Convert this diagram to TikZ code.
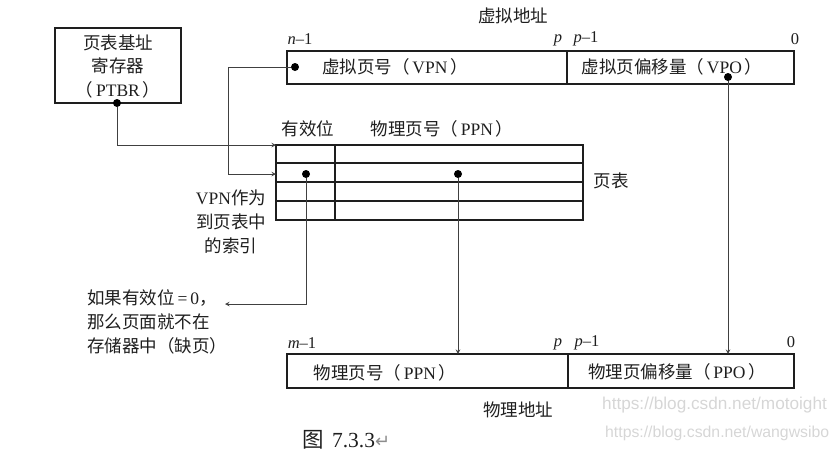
\documentclass[tikz,border=0pt]{standalone}
\usepackage{fontspec}
\setmainfont{Liberation Serif}
\newfontfamily\cjk{Noto Sans CJK SC}
\newfontfamily\wmfont{Liberation Sans}
\newfontfamily\symfont{DejaVu Sans}
\newcommand{\ZH}[1]{{\cjk #1}}
\definecolor{ink}{HTML}{1E1E1E}
\tikzset{
  regbox/.style={draw=ink, line width=1.8pt, inner sep=0pt, outer sep=0pt, anchor=north west},
  dotmark/.style={circle, fill=black, inner sep=0pt, minimum size=8pt},
  link/.style={draw=ink!85, line width=1pt, >=stealth},
  rowline/.style={draw=ink, line width=1.5pt},
  lbl/.style={text=ink, font=\fontsize{17.5}{20}\selectfont, inner sep=0pt},
  bitlbl/.style={text=ink, font=\fontsize{16.5}{18}\selectfont, inner sep=0pt},
  wmark/.style={text=black!16, inner sep=0pt}
}
\begin{document}
\begin{tikzpicture}[x=1pt, y=-1pt]

  \useasboundingbox (0,0) rectangle (839,451);

  %% registers and address boxes
  \node[regbox, minimum width=126pt, minimum height=75pt] (ptbr) at (55,28) {};
  \node[regbox, minimum width=280pt, minimum height=33pt] (vpnbox) at (287,51) {};
  \node[regbox, minimum width=227pt, minimum height=33pt] (vpobox) at (567,51) {};
  \node[regbox, minimum width=281pt, minimum height=34pt] (ppnbox) at (287,354) {};
  \node[regbox, minimum width=226pt, minimum height=34pt] (ppobox) at (568,354) {};

  %% page table
  \node[regbox, minimum width=307pt, minimum height=75pt] (ptable) at (276,145) {};
  \foreach \r in {163,182,201}
    \draw[rowline] (276,\r) -- (583,\r);
  \draw[rowline] (335,145) -- (335,220);

  %% dots
  \node[dotmark] (ptbrdot) at (117,103) {};
  \node[dotmark] (vpndot) at (295,67) {};
  \node[dotmark] (vpodot) at (728,77) {};
  \node[dotmark] (validdot) at (306,174) {};
  \node[dotmark] (ppndot) at (458,174) {};

  \coordinate (vpnbend) at (228,67);
  \coordinate (rowtwo) at (276,174);
  \coordinate (faultend) at (225,304);
  \coordinate (ppnin) at (458,354);
  \coordinate (ppoin) at (728,354);

  \draw[link, ->] (ptbrdot) |- (ptable.north west); %% PTBR->table
  \draw[link, ->] (vpndot) -- (vpnbend) |- (rowtwo); %% VPN->row
  \draw[link, ->] (validdot) |- (faultend); %% valid->fault
  \draw[link, ->] (ppndot) -- (ppnin); %% PPN->PPN
  \draw[link, ->] (vpodot) -- (ppoin); %% VPO->PPO

  %% labels
  \node[lbl, align=center, font=\fontsize{17.5}{23.5}\selectfont] (ptbrlbl) at (118,66) {\ZH{页表基址}\\\ZH{寄存器}\\\ZH{（}\,PTBR\,\ZH{）}};
  \node[lbl] (valabel) at (513,16) {\ZH{虚拟地址}};
  \node[lbl] (vpnlbl) at (395,67) {\ZH{虚拟页号（}\,VPN\,\ZH{）}};
  \node[lbl] (vpolbl) at (672,67) {\ZH{虚拟页偏移量（}\,VPO\,\ZH{）}};
  \node[lbl] (validlbl) at (308,129) {\ZH{有效位}};
  \node[lbl] (ppnhead) at (442,129) {\ZH{物理页号（}\,PPN\,\ZH{）}};
  \node[lbl] (ptlabel) at (611,181) {\ZH{页表}};
  \node[lbl, align=center, font=\fontsize{17.5}{24}\selectfont] (indexlbl) at (231,222) {VPN\ZH{作为}\\\ZH{到页表中}\\\ZH{的索引}};
  \node[lbl, align=left, anchor=west, font=\fontsize{17.5}{24}\selectfont] (faultlbl) at (87,322) {\ZH{如果有效位}\,=\,0\ZH{，}\\\ZH{那么页面就不在}\\\ZH{存储器中（缺页）}};
  \node[lbl] (ppnlbl) at (385,373) {\ZH{物理页号（}\,PPN\,\ZH{）}};
  \node[lbl] (ppolbl) at (677,372) {\ZH{物理页偏移量（}\,PPO\,\ZH{）}};
  \node[lbl] (palabel) at (518,410) {\ZH{物理地址}};

  %% bit positions
  \node[bitlbl] (vahigh) at (300,39) {\textit{n}--1};
  \node[bitlbl] (vap) at (558,40) {\textit{p}};
  \node[bitlbl] (vaplow) at (586,39) {\textit{p}--1};
  \node[bitlbl] (vazero) at (795,39) {0};
  \node[bitlbl] (pahigh) at (302,343) {\textit{m}--1};
  \node[bitlbl] (pap) at (558,344) {\textit{p}};
  \node[bitlbl] (paplow) at (587,343) {\textit{p}--1};
  \node[bitlbl] (pazero) at (791,342) {0};

  %% caption and marks
  \node[text=ink, inner sep=0pt, font=\fontsize{21.5}{24}\selectfont, anchor=west] (caption) at (302,440) {\ZH{图}\hspace{3pt} 7.3.3{\symfont\fontsize{18}{20}\selectfont\textcolor{black!45}{↵}}};
  \node[wmark, anchor=west, font=\fontsize{17.2}{20}\wmfont] (wmarkone) at (602,405) {https://blog.csdn.net/motoight};
  \node[wmark, anchor=west, font=\fontsize{15.8}{20}\wmfont] (wmarktwo) at (605,433) {https://blog.csdn.net/wangwsibo};

\end{tikzpicture}
\end{document}
